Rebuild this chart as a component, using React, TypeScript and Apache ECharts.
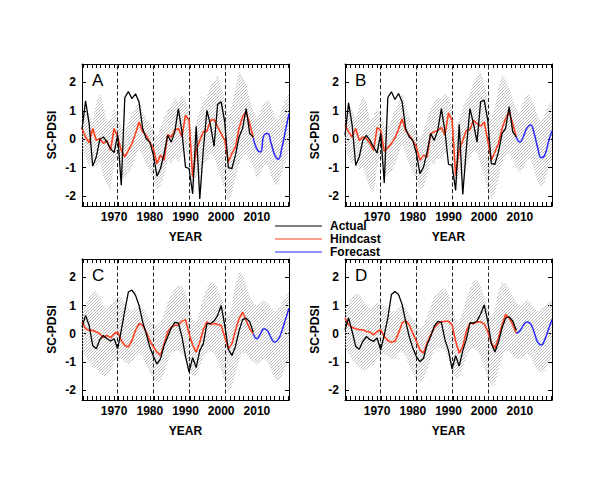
import React, { useEffect, useRef } from 'react';
import * as echarts from 'echarts';

// ---------- data ----------
const FIRST_YEAR = 1961;
const LAST_OBS_YEAR = 2009;
const LAST_YEAR = 2019;

const obsYears: number[] = [];
for (let y = FIRST_YEAR; y <= LAST_OBS_YEAR; y++) obsYears.push(y);
const fcYears: number[] = [];
for (let y = LAST_OBS_YEAR; y <= LAST_YEAR; y++) fcYears.push(y);
const bandYears: number[] = [];
for (let y = FIRST_YEAR; y <= LAST_YEAR; y++) bandYears.push(y);

const dashYears = [1971, 1981, 1991, 2001];
const xLabelValues = [1970, 1980, 1990, 2000, 2010];
const yLabelValues = [-2, -1, 0, 1, 2];
const panelLetters = ['A', 'B', 'C', 'D'];
const legendNames = ['Actual', 'Hindcast', 'Forecast'];

const actualA = [0.35, 1.35, 0.55, -0.95, -0.62, 0.0, 0.08, -0.1, -0.33, -0.47,
  0.16, -1.62, 1.47, 1.68, 1.43, 1.6, 1.3, 0.38, 0.02, -0.1,
  -0.56, -1.3, -1.03, -0.5, 0.14, -0.1, 0.26, 1.08, 0.26, -0.98,
  -1.03, -1.92, 0.46, -2.1, -0.36, 1.02, 0.5, -0.25, 1.23, 1.32,
  0.6, -1.0, -1.03, -0.56, 0.08, 0.38, 1.08, 0.2, 0.08];
const hindcastA = [0.38, 0.08, -0.13, 0.38, -0.04, 0.02, -0.15, -0.04, -0.39, 0.38,
  0.08, -0.39, -0.62, -0.39, -0.15, 0.2, 0.61, 0.26, 0.14, -0.1,
  -0.33, -0.86, -0.56, -0.74, 0.16, 0.08, 0.32, 0.38, 0.08, 0.85,
  0.67, -1.33, -0.39, -0.04, 0.26, 0.29, 0.67, 0.69, 0.44, 0.2,
  -0.04, -0.8, -0.5, -0.27, 0.38, 0.79, 0.96, 0.55, 0.05];
const forecastA = [0.05, -0.35, -0.45, 0.15, 0.2, -0.15, -0.55, -0.7, -0.3, 0.3, 0.9];
const bandHiA = [0.8, 1.0, 0.9, 0.6, 1.3, 1.6, 1.2, 0.6, 0.7, 1.1, 0.8, 0.5, 0.3, 0.6, 0.9, 1.1, 1.4, 1.0, 0.7, 0.6,
  0.3, 0.1, 0.4, 0.8, 1.0, 1.2, 1.5, 1.3, 1.6, 1.4, 1.0, 0.0, 0.6, 1.0, 1.4, 1.5, 1.9, 2.0, 2.3, 1.9,
  1.4, 0.8, 1.2, 1.8, 2.4, 2.2, 1.9, 1.4, 1.0, 0.7, 1.0, 1.3, 1.4, 1.2, 0.8, 0.7, 1.1, 1.4, 1.6];
const bandLoA = [-0.4, -0.6, -1.0, -0.6, -1.0, -0.8, -1.3, -1.6, -1.8, -0.9, -0.6, -1.2, -1.4, -1.2, -1.0, -0.6, -0.3, -0.6, -0.9, -1.1,
  -1.4, -1.8, -1.6, -1.3, -0.7, -0.9, -0.6, -0.8, -0.5, -0.3, -0.7, -1.6, -1.3, -1.2, -0.9, -0.8, -0.5, -0.6, -1.0, -1.4,
  -1.8, -2.2, -1.9, -1.4, -0.9, -0.6, -0.5, -0.7, -1.0, -1.4, -1.2, -0.9, -0.9, -1.3, -1.6, -1.6, -1.2, -0.8, -0.4];

const actualB = [0.14, 1.28, 0.5, -0.92, -0.62, -0.04, 0.14, -0.04, -0.27, -0.48,
  0.2, -1.54, 1.47, 1.67, 1.4, 1.61, 1.32, 0.38, 0.08, -0.04,
  -0.5, -1.21, -0.98, -0.45, 0.2, -0.04, 0.32, 1.08, 0.29, -0.88,
  -0.92, -1.8, 0.53, -1.94, -0.33, 1.08, 0.55, -0.1, 1.32, 1.38,
  0.67, -0.86, -0.88, -0.45, 0.2, 0.38, 1.14, 0.26, 0.08];
const hindcastB = [0.5, 0.26, 0.08, 0.38, -0.04, 0.08, 0.02, -0.15, -0.39, 0.41,
  0.32, -0.42, -0.3, -0.15, 0.05, 0.35, 0.72, 0.3, 0.14, -0.04,
  -0.27, -0.74, -0.56, -0.62, 0.2, 0.26, 0.32, 0.41, 0.14, 0.93,
  0.67, -1.27, -0.39, -0.04, 0.32, 0.34, 0.67, 0.55, 0.46, 0.61,
  -0.04, -0.74, -0.45, -0.15, 0.38, 0.73, 0.96, 0.55, 0.08];
const forecastB = [0.08, -0.1, 0.1, 0.4, 0.5, 0.2, -0.3, -0.65, -0.55, -0.1, 0.3];
const bandHiB = [0.7, 1.2, 1.0, 0.7, 1.2, 1.5, 1.3, 0.7, 0.8, 1.1, 0.9, 0.5, 0.4, 0.7, 1.0, 1.3, 1.6, 1.2, 0.8, 0.6,
  0.3, 0.0, 0.3, 0.7, 1.1, 1.3, 1.5, 1.4, 1.6, 1.5, 1.1, 0.2, 0.7, 1.1, 1.4, 1.6, 2.0, 2.2, 2.4, 2.0,
  1.4, 0.7, 1.1, 1.8, 2.3, 2.1, 1.8, 1.4, 1.1, 0.9, 1.3, 1.6, 1.5, 1.2, 0.8, 0.6, 0.9, 1.2, 1.3];
const bandLoB = [-0.3, -0.6, -0.9, -0.5, -1.1, -1.0, -1.4, -1.7, -1.9, -1.0, -0.6, -1.2, -1.3, -1.1, -0.9, -0.5, -0.2, -0.5, -0.9, -1.2,
  -1.4, -1.8, -1.7, -1.3, -0.8, -0.9, -0.6, -0.7, -0.5, -0.3, -0.7, -1.7, -1.3, -1.1, -0.9, -0.7, -0.4, -0.5, -0.9, -1.3,
  -1.8, -2.1, -1.9, -1.4, -0.8, -0.6, -0.5, -0.7, -1.0, -1.2, -1.0, -0.7, -0.7, -1.1, -1.5, -1.7, -1.5, -1.0, -0.7];

const actualC = [0.24, 0.65, 0.3, -0.42, -0.53, -0.21, -0.06, -0.18, -0.26, -0.18,
  -0.53, 0.12, 0.83, 1.48, 1.55, 1.36, 1.0, 0.42, 0.0, -0.47,
  -0.8, -1.07, -0.89, -0.42, -0.12, 0.2, 0.4, 0.38, -0.1, -0.8,
  -1.36, -0.85, -1.2, -0.6, -0.35, 0.36, 0.36, 0.45, 0.65, 1.0,
  0.3, -0.55, -0.77, -0.45, 0.1, 0.5, 0.55, 0.42, 0.05];
const hindcastC = [0.42, 0.18, 0.12, 0.12, 0.06, 0.0, -0.14, -0.06, -0.14, 0.0,
  0.06, -0.24, -0.42, -0.47, -0.24, 0.12, 0.36, 0.3, 0.06, -0.24,
  -0.47, -0.65, -0.77, -0.36, 0.06, 0.24, 0.3, 0.3, 0.44, 0.5,
  0.0, -0.4, -0.65, -0.3, 0.15, 0.42, 0.33, 0.36, 0.33, 0.3,
  -0.12, -0.53, -0.36, 0.12, 0.53, 0.77, 0.47, 0.18, 0.0];
const forecastC = [0.0, -0.18, 0.0, 0.18, 0.1, -0.15, -0.3, -0.2, 0.1, 0.5, 0.9];
const bandHiC = [0.8, 1.0, 1.3, 1.5, 1.5, 1.3, 1.0, 0.9, 1.0, 1.2, 1.3, 1.3, 1.1, 0.9, 0.8, 0.9, 1.0, 0.9, 0.7, 0.5,
  0.3, 0.3, 0.4, 0.7, 1.1, 1.4, 1.6, 1.7, 1.7, 1.5, 1.0, 0.5, 0.4, 0.8, 1.3, 1.6, 1.8, 1.8, 1.6, 1.3,
  0.9, 0.6, 1.0, 1.7, 2.2, 2.1, 1.7, 1.3, 1.1, 1.0, 1.1, 1.2, 1.1, 0.9, 0.8, 0.9, 1.1, 1.3, 1.5];
const bandLoC = [-0.6, -0.8, -1.0, -1.2, -1.2, -1.4, -1.5, -1.5, -1.3, -1.0, -0.9, -0.9, -1.0, -1.1, -1.0, -0.8, -0.7, -0.8, -1.1, -1.4,
  -1.6, -1.7, -1.7, -1.4, -1.0, -0.7, -0.6, -0.6, -0.7, -0.9, -1.3, -1.5, -1.5, -1.2, -0.8, -0.7, -0.6, -0.7, -0.9, -1.3,
  -1.7, -2.0, -1.9, -1.4, -0.9, -0.7, -0.7, -0.9, -1.0, -1.1, -1.0, -0.9, -1.0, -1.3, -1.6, -1.7, -1.5, -1.2, -0.9];

const actualD = [0.14, 0.56, 0.08, -0.45, -0.55, -0.27, -0.1, -0.21, -0.27, -0.15,
  -0.57, -0.04, 0.56, 1.39, 1.5, 1.39, 1.04, 0.44, -0.1, -0.51,
  -0.81, -0.99, -0.87, -0.39, -0.1, 0.26, 0.44, 0.4, -0.21, -0.6,
  -1.25, -0.78, -1.15, -0.6, -0.2, 0.38, 0.38, 0.45, 0.7, 1.02,
  0.45, -0.35, -0.65, -0.3, 0.2, 0.55, 0.6, 0.45, 0.12];
const hindcastD = [0.56, 0.32, 0.23, 0.18, 0.14, 0.14, 0.08, 0.06, -0.04, 0.08,
  0.14, -0.1, -0.25, -0.3, -0.27, 0.02, 0.38, 0.46, 0.32, 0.02,
  -0.27, -0.57, -0.69, -0.33, -0.04, 0.2, 0.35, 0.42, 0.44, 0.44,
  0.32, -0.27, -0.69, -0.45, 0.08, 0.38, 0.35, 0.42, 0.42, 0.35,
  0.08, -0.33, -0.51, -0.15, 0.32, 0.68, 0.56, 0.32, 0.02];
const forecastD = [0.02, 0.1, 0.3, 0.42, 0.35, 0.05, -0.3, -0.4, -0.2, 0.15, 0.5];
const bandHiD = [0.9, 1.1, 1.3, 1.4, 1.4, 1.2, 1.0, 0.9, 1.0, 1.1, 1.1, 1.0, 0.9, 0.8, 0.8, 0.9, 1.0, 0.9, 0.7, 0.5,
  0.3, 0.2, 0.3, 0.6, 1.0, 1.3, 1.5, 1.6, 1.6, 1.4, 1.0, 0.5, 0.4, 0.8, 1.2, 1.6, 1.9, 1.9, 1.7, 1.3,
  0.9, 0.6, 0.9, 1.5, 1.8, 1.8, 1.6, 1.3, 1.1, 1.0, 1.1, 1.2, 1.1, 0.9, 0.8, 0.9, 1.0, 1.1, 1.2];
const bandLoD = [-0.5, -0.7, -0.9, -1.1, -1.2, -1.3, -1.3, -1.2, -1.1, -0.9, -0.8, -0.7, -0.8, -0.9, -0.9, -0.7, -0.6, -0.8, -1.1, -1.4,
  -1.6, -1.7, -1.6, -1.3, -0.9, -0.6, -0.5, -0.5, -0.6, -0.9, -1.3, -1.6, -1.5, -1.2, -0.8, -0.6, -0.5, -0.6, -0.8, -1.2,
  -1.6, -1.9, -1.8, -1.3, -0.8, -0.6, -0.6, -0.8, -0.9, -0.9, -0.8, -0.7, -0.8, -1.1, -1.3, -1.4, -1.3, -1.0, -0.8];

// ---------- styling ----------
const FONT = '"Liberation Sans", Arial, Helvetica, sans-serif';
const RED = '#ff4020';
const BLUE = '#2a2aff';
const gridRects = [
  { left: 82, top: 64, width: 207, height: 142 },
  { left: 345, top: 64, width: 207, height: 142 },
  { left: 82, top: 259, width: 207, height: 141 },
  { left: 345, top: 259, width: 207, height: 141 },
];
const Y_MIN = -2.35;
const Y_MAX = 2.65;

// minor tick positions along the year axis (every 1.25 yr)
const xTickValues: number[] = [];
for (let k = 1; 1960 + 1.25 * k < LAST_YEAR; k++) xTickValues.push(1960 + 1.25 * k);

function makeHatch() {
  const n = 3;
  const c = document.createElement('canvas');
  c.width = n;
  c.height = n;
  const ctx = c.getContext('2d')!;
  ctx.strokeStyle = '#b4b4b4';
  ctx.lineWidth = 0.9;
  ctx.beginPath();
  ctx.moveTo(-1, n + 1); ctx.lineTo(n + 1, -1);
  ctx.moveTo(-1, 1); ctx.lineTo(1, -1);
  ctx.moveTo(n - 1, n + 1); ctx.lineTo(n + 1, n - 1);
  ctx.stroke();
  return { image: c, repeat: 'repeat', imageWidth: n, imageHeight: n };
}

export default function App() {
  const ref = useRef<HTMLDivElement>(null);

  useEffect(() => {
    if (!ref.current) return;
    const chart = echarts.init(ref.current, null, { renderer: 'svg' });
    const hatch = makeHatch();

    const panels = [
      { actual: actualA, hind: hindcastA, fc: forecastA, hi: bandHiA, lo: bandLoA },
      { actual: actualB, hind: hindcastB, fc: forecastB, hi: bandHiB, lo: bandLoB },
      { actual: actualC, hind: hindcastC, fc: forecastC, hi: bandHiC, lo: bandLoC },
      { actual: actualD, hind: hindcastD, fc: forecastD, hi: bandHiD, lo: bandLoD },
    ];

    const labelStyle = { color: '#000', fontFamily: FONT, fontWeight: 'bold' as const, fontSize: 12 };
    const grids: any[] = [];
    const xAxes: any[] = [];
    const yAxes: any[] = [];
    const series: any[] = [];

    panels.forEach((p, i) => {
      grids.push({ ...gridRects[i], containLabel: false });
      const baseX = {
        type: 'value', gridIndex: i, min: FIRST_YEAR, max: LAST_YEAR,
        axisLine: { show: true, onZero: false, lineStyle: { color: '#000', width: 1 } },
        axisTick: { show: true, inside: true, length: 4, customValues: xTickValues, lineStyle: { color: '#000', width: 1 } },
        splitLine: { show: false },
      };
      xAxes.push({
        ...baseX, position: 'bottom',
        axisLabel: { ...labelStyle, customValues: xLabelValues, margin: 5, formatter: (v: number) => String(v) },
        name: 'YEAR', nameLocation: 'middle', nameGap: 25, nameTextStyle: labelStyle,
      });
      xAxes.push({ ...baseX, position: 'top', axisLabel: { show: false } });
      const baseY = {
        type: 'value', gridIndex: i, min: Y_MIN, max: Y_MAX,
        axisLine: { show: true, onZero: false, lineStyle: { color: '#000', width: 1 } },
        axisTick: { show: true, inside: true, length: 4, customValues: yLabelValues, lineStyle: { color: '#000', width: 1 } },
        splitLine: { show: false },
      };
      yAxes.push({
        ...baseY, position: 'left',
        axisLabel: { ...labelStyle, customValues: yLabelValues, margin: 6, formatter: (v: number) => String(v) },
        name: 'SC-PDSI', nameLocation: 'middle', nameGap: 24, nameRotate: 90, nameTextStyle: labelStyle,
      });
      yAxes.push({ ...baseY, position: 'right', axisLabel: { show: false } });

      const xi = i * 2;
      const yi = i * 2;
      const bandData = bandYears.map((yr, k) => [yr, p.lo[k], p.hi[k]]);
      series.push({
        type: 'custom', name: 'band' + i, xAxisIndex: xi, yAxisIndex: yi, silent: true, z: 1,
        data: bandData,
        renderItem: (params: any, api: any) => {
          if (params.dataIndex !== 0) return null;
          const pts: number[][] = [];
          for (let k = 0; k < bandYears.length; k++) pts.push(api.coord([bandYears[k], p.hi[k]]));
          for (let k = bandYears.length - 1; k >= 0; k--) pts.push(api.coord([bandYears[k], p.lo[k]]));
          return { type: 'polygon', shape: { points: pts }, style: { fill: hatch, stroke: null } };
        },
      });
      series.push({
        type: 'line', name: 'Hindcast', xAxisIndex: xi, yAxisIndex: yi, z: 3,
        data: obsYears.map((yr, k) => [yr, p.hind[k]]),
        symbol: 'none', lineStyle: { color: RED, width: 1.6 }, itemStyle: { color: RED },
      });
      series.push({
        type: 'line', name: 'Actual', xAxisIndex: xi, yAxisIndex: yi, z: 4,
        data: obsYears.map((yr, k) => [yr, p.actual[k]]),
        symbol: 'none', lineStyle: { color: '#000', width: 1.3 }, itemStyle: { color: '#000' },
        markLine: {
          silent: true, symbol: ['none', 'none'], label: { show: false }, z: 2,
          lineStyle: { color: '#222', width: 1, type: [4, 2.5] },
          data: dashYears.map((yr) => ({ xAxis: yr })),
        },
      });
      series.push({
        type: 'line', name: 'Forecast', xAxisIndex: xi, yAxisIndex: yi, z: 4,
        data: fcYears.map((yr, k) => [yr, p.fc[k]]),
        smooth: true, symbol: 'none', lineStyle: { color: BLUE, width: 1.5 }, itemStyle: { color: BLUE },
      });
    });

    const graphics = panelLetters.map((t, i) => ({
      type: 'text', left: gridRects[i].left + 10, top: gridRects[i].top + 8,
      style: { text: t, fontFamily: FONT, fontSize: 17, fill: '#000' },
    }));

    chart.setOption({
      animation: false,
      backgroundColor: '#fff',
      grid: grids,
      xAxis: xAxes,
      yAxis: yAxes,
      series,
      graphic: graphics,
      legend: {
        data: legendNames, orient: 'vertical', left: 270, top: 215,
        icon: 'rect', itemWidth: 47, itemHeight: 1, itemGap: 1, selectedMode: false,
        textStyle: { ...labelStyle, lineHeight: 12, padding: [0, 0, 0, 3] },
      },
    });
    return () => chart.dispose();
  }, []);

  return <div ref={ref} style={{ position: 'fixed', left: 0, top: 0, width: 600, height: 500 }} />;
}
